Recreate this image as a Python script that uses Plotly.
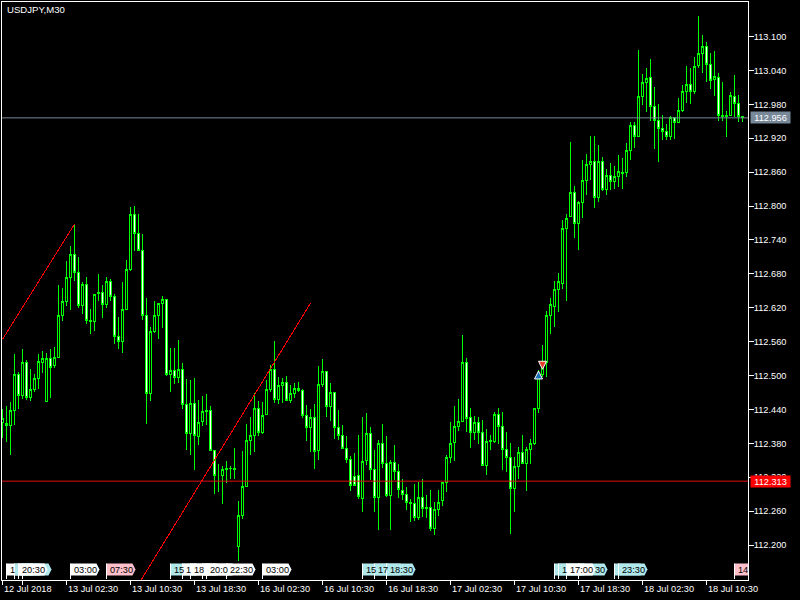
import plotly.graph_objects as go

TITLE = "USDJPY,M30"

HIGH = [112.440,112.446,112.453,112.538,112.506,112.547,112.527,112.511,112.503,112.538,
112.543,112.539,112.547,112.551,112.660,112.655,112.703,112.729,112.768,112.710,
112.665,112.674,112.618,112.644,112.680,112.660,112.674,112.670,112.644,112.604,
112.665,112.705,112.798,112.800,112.786,112.750,112.637,112.586,112.631,112.628,
112.640,112.635,112.548,112.549,112.563,112.522,112.493,112.492,112.495,112.457,
112.464,112.467,112.446,112.369,112.343,112.339,112.348,112.340,112.372,112.277,
112.367,112.415,112.426,112.469,112.455,112.453,112.492,112.519,112.561,112.498,
112.495,112.499,112.483,112.486,112.489,112.476,112.447,112.440,112.450,112.516,
112.529,112.508,112.487,112.471,112.439,112.412,112.393,112.358,112.363,112.395,
112.426,112.434,112.409,112.369,112.385,112.415,112.393,112.350,112.377,112.343,
112.317,112.302,112.281,112.308,112.311,112.317,112.288,112.297,112.276,112.297,
112.311,112.359,112.418,112.446,112.458,112.572,112.531,112.442,112.428,112.426,
112.421,112.405,112.395,112.435,112.442,112.435,112.400,112.380,112.355,112.373,
112.394,112.373,112.387,112.442,112.510,112.554,112.614,112.638,112.667,112.682,
112.775,112.786,112.913,112.835,112.808,112.881,112.892,112.924,112.924,112.908,
112.886,112.865,112.876,112.870,112.890,112.885,112.911,112.948,112.948,113.076,
113.034,113.044,113.060,113.010,112.981,112.961,112.946,112.960,112.958,112.991,
113.014,113.048,113.044,113.063,113.136,113.103,113.091,113.070,113.074,113.035,
113.020,112.968,113.002,113.032,112.997,112.959]

BODY_TOP = [112.424,112.415,112.438,112.502,112.502,112.523,112.523,112.475,112.495,112.525,
112.530,112.530,112.530,112.532,112.606,112.631,112.674,112.714,112.714,112.682,
112.661,112.661,112.598,112.644,112.647,112.647,112.666,112.666,112.640,112.569,
112.617,112.688,112.785,112.785,112.752,112.722,112.606,112.578,112.607,112.628,
112.635,112.635,112.509,112.509,112.511,112.511,112.449,112.451,112.451,112.417,
112.437,112.438,112.438,112.368,112.323,112.334,112.335,112.336,112.336,112.253,
112.304,112.385,112.394,112.442,112.442,112.430,112.476,112.511,112.511,112.482,
112.488,112.488,112.469,112.477,112.477,112.474,112.429,112.426,112.426,112.484,
112.507,112.507,112.470,112.470,112.408,112.394,112.371,112.352,112.322,112.323,
112.348,112.398,112.398,112.334,112.380,112.380,112.344,112.346,112.346,112.330,
112.297,112.290,112.276,112.274,112.284,112.284,112.267,112.266,112.263,112.276,
112.311,112.355,112.380,112.410,112.419,112.523,112.523,112.426,112.417,112.417,
112.399,112.383,112.385,112.431,112.431,112.409,112.369,112.355,112.339,112.364,
112.364,112.369,112.380,112.442,112.501,112.523,112.606,112.625,112.652,112.667,
112.760,112.778,112.824,112.824,112.806,112.845,112.874,112.879,112.879,112.879,
112.879,112.854,112.854,112.852,112.861,112.860,112.898,112.943,112.943,112.994,
113.019,113.026,113.028,112.976,112.951,112.937,112.931,112.957,112.957,112.969,
113.003,113.015,113.015,113.047,113.070,113.083,113.083,113.051,113.029,113.028,
112.961,112.961,112.995,112.994,112.981,112.958]

BODY_BOTTOM = [112.417,112.411,112.411,112.438,112.465,112.465,112.461,112.461,112.476,112.495,
112.523,112.454,112.515,112.517,112.532,112.607,112.631,112.674,112.683,112.624,
112.624,112.598,112.595,112.596,112.645,112.626,112.625,112.640,112.569,112.560,
112.560,112.617,112.688,112.752,112.722,112.606,112.468,112.468,112.578,112.607,
112.628,112.502,112.502,112.497,112.496,112.449,112.398,112.398,112.393,112.392,
112.418,112.436,112.368,112.323,112.323,112.323,112.334,112.335,112.334,112.198,
112.253,112.304,112.385,112.394,112.400,112.400,112.431,112.476,112.458,112.458,
112.482,112.456,112.455,112.469,112.473,112.429,112.408,112.408,112.366,112.367,
112.484,112.445,112.445,112.408,112.394,112.371,112.352,112.306,112.306,112.286,
112.283,112.349,112.334,112.284,112.284,112.344,112.287,112.287,112.330,112.298,
112.290,112.275,112.274,112.248,112.248,112.265,112.265,112.229,112.229,112.263,
112.278,112.311,112.355,112.381,112.410,112.418,112.424,112.399,112.399,112.399,
112.340,112.340,112.383,112.383,112.409,112.369,112.355,112.300,112.300,112.339,
112.344,112.344,112.369,112.379,112.442,112.501,112.523,112.606,112.623,112.652,
112.663,112.760,112.781,112.769,112.769,112.806,112.845,112.874,112.815,112.815,
112.830,112.830,112.843,112.843,112.852,112.857,112.859,112.898,112.923,112.923,
112.994,113.018,112.976,112.951,112.937,112.931,112.923,112.923,112.948,112.948,
112.969,113.002,113.002,113.002,113.048,113.070,113.051,113.022,113.024,112.961,
112.958,112.958,112.961,112.981,112.958,112.956]

LOW = [112.390,112.383,112.359,112.412,112.441,112.458,112.457,112.455,112.470,112.476,
112.505,112.454,112.460,112.513,112.532,112.597,112.623,112.616,112.667,112.620,
112.609,112.592,112.574,112.579,112.631,112.602,112.619,112.631,112.556,112.547,
112.540,112.616,112.685,112.720,112.720,112.598,112.415,112.455,112.576,112.565,
112.584,112.499,112.470,112.485,112.487,112.440,112.368,112.359,112.332,112.377,
112.410,112.413,112.367,112.291,112.293,112.273,112.310,112.317,112.316,112.171,
112.246,112.303,112.359,112.365,112.393,112.396,112.430,112.471,112.451,112.449,
112.451,112.454,112.451,112.460,112.470,112.424,112.384,112.365,112.335,112.350,
112.479,112.426,112.420,112.387,112.386,112.370,112.346,112.296,112.304,112.281,
112.258,112.341,112.315,112.258,112.227,112.336,112.285,112.227,112.315,112.283,
112.280,112.262,112.240,112.242,112.244,112.250,112.247,112.225,112.218,112.252,
112.269,112.294,112.346,112.348,112.402,112.417,112.400,112.372,112.386,112.379,
112.340,112.324,112.368,112.381,112.379,112.333,112.329,112.219,112.258,112.316,
112.343,112.295,112.344,112.377,112.434,112.498,112.498,112.574,112.586,112.613,
112.653,112.632,112.781,112.744,112.722,112.779,112.820,112.846,112.797,112.807,
112.827,112.820,112.828,112.830,112.833,112.830,112.851,112.881,112.902,112.923,
112.979,112.967,112.950,112.901,112.877,112.917,112.917,112.917,112.919,112.948,
112.967,112.983,112.981,112.998,113.044,113.035,113.020,113.007,112.994,112.951,
112.951,112.923,112.959,112.958,112.948,112.948]

# 1 = white-filled (bearish) candle, 0 = black-filled (bullish) candle
BEAR = [0,1,0,0,1,0,1,0,0,0, 0,0,1,0,0,0,0,0,1,1, 0,1,1,0,1,1,0,1,1,1, 0,0,0,1,1,1,1,0,0,0,
0,1,0,1,0,1,1,0,1,0, 0,1,1,1,1,0,1,1,1,0, 0,0,0,0,1,0,0,0,1,0, 0,1,0,0,1,1,1,0,1,0,
0,1,0,1,1,1,1,1,1,1, 0,0,1,1,0,1,1,0,1,1, 1,1,1,1,0,1,1,1,0,0, 0,0,0,0,0,0,1,1,0,1,
1,0,1,0,1,1,1,1,0,0, 1,0,0,0,0,0,0,0,0,0, 0,0,0,1,0,0,0,0,1,0, 1,0,1,0,0,1,0,0,1,0,
0,0,1,1,1,1,1,0,1,0, 0,0,1,0,0,0,1,1,0,1, 1,1,0,1,1,1]

Y_TICKS = [113.10,113.04,112.98,112.92,112.86,112.80,112.74,112.68,112.62,112.56,
           112.50,112.44,112.38,112.32,112.26,112.20]

X_TICK_BARS = [0, 16, 32, 48, 64, 80, 96, 112, 128, 144, 160, 176]
X_TICK_LABELS = ["12 Jul 2018", "13 Jul 02:30", "13 Jul 10:30", "13 Jul 18:30", "16 Jul 02:30",
                 "16 Jul 10:30", "16 Jul 18:30", "17 Jul 02:30", "17 Jul 10:30", "17 Jul 18:30",
                 "18 Jul 02:30", "18 Jul 10:30"]
X_MINOR_BAR = [5]

BID = 112.956
LEVEL = 112.313

TREND1_BARS = [0, 18]
TREND1_PRICES = [112.564, 112.768]
TREND2_BARS = [33, 77]
TREND2_PRICES = [112.119, 112.628]

BUY_BAR, BUY_PRICE = [134], [112.508]
SELL_BAR, SELL_PRICE = [135], [112.511]

# bar, visible text, kind, text offset
TAGS = [
    (1, "1", "w", 2), (3, "", "b", 2), (5, "", "b", 2), (4, "20:30", "w", 2),
    (17, "03:00", "w", 2), (26, "07:30", "p", 2),
    (42, "15", "b", 2), (45, "1", "w", 2), (47, "18", "w", 2), (50, "", "w", 2), (51, "20:0", "w", 2),
    (56, "22:30", "w", 2), (65, "03:00", "w", 2),
    (90, "15", "b", 2), (93, "17", "b", 2), (96, "18:30", "b", 2),
    (138, "", "b", 2), (139, "1", "b", 2), (144, "30", "b", 15), (141, "17:00", "w", 2),
    (153, "", "b", 2), (154, "23:30", "b", 2), (183, "14", "p", 2),
]

W, H = 800, 600
L, R, T, B = 2, 748, 2, 580
PX_BAR = 4.0
X0 = 2.5
FONT = "Liberation Sans"
FS = 9.2

def py(px):
    return (B - px) / (B - T)

TAG_FILL = {"w": "#ffffff", "b": "#b0e8ec", "p": "#ffc0cb"}

opens = [t if b else bo for t, bo, b in zip(BODY_TOP, BODY_BOTTOM, BEAR)]
closes = [bo if b else t for t, bo, b in zip(BODY_TOP, BODY_BOTTOM, BEAR)]
bars = list(range(len(HIGH)))

fig = go.Figure()
fig.add_trace(go.Candlestick(
    x=bars, open=opens, high=HIGH, low=LOW, close=closes,
    increasing=dict(line=dict(color="#00ff00", width=1), fillcolor="#000000"),
    decreasing=dict(line=dict(color="#00ff00", width=1), fillcolor="#ffffff"),
    whiskerwidth=0, showlegend=False, hoverinfo="skip"))
for xs, ys in ((TREND1_BARS, TREND1_PRICES), (TREND2_BARS, TREND2_PRICES)):
    fig.add_trace(go.Scatter(x=xs, y=ys, mode="lines", showlegend=False, hoverinfo="skip",
                             line=dict(color="#ff0000", width=1)))
fig.add_trace(go.Scatter(x=BUY_BAR, y=BUY_PRICE, mode="markers", showlegend=False, hoverinfo="skip",
                         marker=dict(symbol="arrow-up", size=8, color="#1a6fb5",
                                     line=dict(color="#ffffff", width=1))))
fig.add_trace(go.Scatter(x=SELL_BAR, y=SELL_PRICE, mode="markers", showlegend=False, hoverinfo="skip",
                         marker=dict(symbol="arrow-down", size=8, color="#e8402a",
                                     line=dict(color="#ffffff", width=1))))

shapes = [
    dict(type="line", xref="paper", x0=0, x1=1, yref="y", y0=BID, y1=BID,
         line=dict(color="#778899", width=1), layer="above"),
    dict(type="line", xref="paper", x0=0, x1=1, yref="y", y0=LEVEL, y1=LEVEL,
         line=dict(color="#e01010", width=1), layer="above"),
]
annotations = [
    dict(text=TITLE, xref="paper", yref="paper", x=(5 - L) / (R - L), y=py(9.5), xanchor="left",
         yanchor="middle", showarrow=False, font=dict(family=FONT, size=9.6, color="#ffffff")),
]

for bar, text, kind, shift in TAGS:
    x = bar
    w = 29 / PX_BAR
    n = 3 / PX_BAR
    top, mid, bot = py(563.5), py(569.5), py(575.5)
    path = (f"M {x} {top} L {x + w - n} {top} L {x + w} {mid} L {x + w - n} {bot} L {x} {bot} Z")
    shapes.append(dict(type="path", path=path, xref="x", yref="paper", layer="above",
                       fillcolor=TAG_FILL[kind], line=dict(width=0)))
    shapes.append(dict(type="line", xref="x", yref="paper", x0=x, x1=x, y0=py(563.5), y1=py(579),
                       layer="above", line=dict(color="#ffffff", width=1)))
    if text:
        annotations.append(dict(text=text, xref="x", yref="paper", x=x, y=py(569.5), xshift=shift,
                                xanchor="left", yanchor="middle", showarrow=False, borderpad=0,
                                font=dict(family=FONT, size=FS, color="#000000")))

for bar, label in zip(X_TICK_BARS, X_TICK_LABELS):
    annotations.append(dict(text=label, xref="x", yref="paper", x=bar, y=py(588.5), xshift=-1,
                            xanchor="left", yanchor="middle", showarrow=False,
                            font=dict(family=FONT, size=FS, color="#ffffff")))

for price, fill in ((BID, "#778899"), (LEVEL, "#ff0000")):
    annotations.append(dict(text=f"{price:.3f}", xref="paper", yref="y",
                            x=(750 - L) / (R - L), y=price, xanchor="left", yanchor="middle",
                            width=39, height=11, bgcolor=fill, borderpad=0, align="center",
                            showarrow=False, font=dict(family=FONT, size=FS, color="#ffffff")))

fig.update_layout(
    width=W, height=H, autosize=False, margin=dict(l=L, r=W - R, t=T, b=H - B, pad=0),
    paper_bgcolor="#000000", plot_bgcolor="#000000", showlegend=False, hovermode=False,
    boxgap=0.5,
    shapes=shapes, annotations=annotations, font=dict(family=FONT, size=FS, color="#ffffff"),
    xaxis=dict(range=[(L - X0) / PX_BAR, (R - X0) / PX_BAR], rangeslider=dict(visible=False),
               showgrid=False, zeroline=False, showline=True, mirror=True, linecolor="#ffffff",
               linewidth=1, ticks="outside", ticklen=4, tickcolor="#ffffff", tickwidth=1,
               tickmode="array", tickvals=X_TICK_BARS + X_MINOR_BAR,
               showticklabels=False),
    yaxis=dict(range=[113.1 - (B - 36.5) / 565, 113.1 + (36.5 - T) / 565], side="right",
               showgrid=False, zeroline=False, showline=True, mirror=True, linecolor="#ffffff",
               linewidth=1, ticks="outside", ticklen=5, tickcolor="#ffffff", tickwidth=1,
               ticklabelstandoff=-2,
               tickmode="array", tickvals=Y_TICKS, ticktext=[f"{v:.3f}" for v in Y_TICKS],
               tickfont=dict(family=FONT, size=FS, color="#ffffff")),
)
CSS = ".boxes path,.js-line{shape-rendering:crispEdges !important}"
fig.write_html("out.html", config=dict(displayModeBar=False),
               post_script="document.body.style.margin='0';document.body.style.background='#000';"
                           "var s=document.createElement('style');s.textContent='" + CSS + "';"
                           "document.head.appendChild(s);")
